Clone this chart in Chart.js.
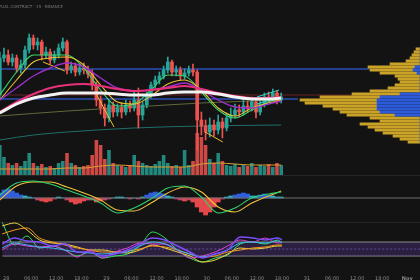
<!DOCTYPE html>
<html>
<head>
<meta charset="utf-8">
<script src="https://cdn.jsdelivr.net/npm/chart.js@4.4.0/dist/chart.umd.min.js"></script>
<style>
html, body { margin: 0; padding: 0; background: #131313; }
#wrap { position: relative; width: 420px; height: 280px; overflow: hidden; background: #131313; }
canvas { position: absolute; left: 0; }
#main { top: 0; }
#profile { top: 0; left: 280px; }
#macd { top: 175px; }
#osc { top: 222px; }
.sep { position: absolute; left: 0; width: 420px; height: 1px; background: #262626; }
#title { position: absolute; top: 4px; right: 357px; white-space: nowrap; font: 4px "DejaVu Sans"; color: #7a7a7a; }
</style>
</head>
<body>
<div id="wrap">
  <canvas id="main" width="420" height="175"></canvas>
  <canvas id="profile" width="140" height="175"></canvas>
  <div class="sep" style="top:175px"></div>
  <canvas id="macd" width="420" height="47"></canvas>
  <div class="sep" style="top:222px"></div>
  <canvas id="osc" width="420" height="58"></canvas>
  <div id="title">BTCUSD PERPETUAL CONTRACT · 15 · BINANCE</div>
</div>
<script>
// hours since 28th 00:00, one candle per hour
const hours = [-1,0,1,2,3,4,5,6,7,8,9,10,11,12,13,14,15,16,17,18,19,20,21,22,23,24,25,26,27,28,29,30,31,32,33,
  34,35,36,37,38,39,40,41,42,43,44,45,46,47,48,49,50,51,52,53,54,55,56,57,58,59,60,61,62,63,64,65,66];
const firstOpen = 34250;
const closes = [34620,34650,34580,34620,34520,34550,34700,34820,34750,34780,34650,34680,34600,34650,34720,34780,34500,
  34540,34480,34520,34500,34460,34350,34200,34120,34020,34150,34080,34120,34080,34150,34120,34200,34050,34150,34250,
  34350,34400,34440,34500,34580,34480,34500,34440,34470,34500,34480,34000,33940,33880,33950,33900,33980,33920,34020,
  34050,34100,34080,34140,34120,34180,34080,34160,34230,34220,34270,34200,34230];
const highs = [34680,34720,34700,34660,34650,34600,34740,34860,34850,34820,34800,34730,34710,34690,34760,34820,34800,
  34580,34570,34560,34570,34540,34500,34380,34240,34160,34200,34180,34160,34170,34200,34190,34280,34320,34180,34280,
  34380,34440,34480,34540,34630,34600,34540,34530,34510,34540,34560,34500,34080,34000,34020,34000,34050,34020,34070,
  34120,34160,34150,34200,34190,34230,34220,34200,34270,34280,34310,34290,34270];
const lows = [34200,34580,34550,34540,34480,34470,34520,34670,34710,34700,34600,34620,34560,34570,34620,34690,34460,
  34470,34440,34450,34460,34420,34300,34140,34060,33940,33980,34030,34040,34020,34050,34080,34090,33920,34000,34120,
  34220,34320,34360,34410,34470,34440,34440,34400,34410,34440,34440,33700,33850,33800,33830,33840,33860,33820,33890,
  33980,34020,34030,34050,34080,34090,34020,34050,34130,34180,34190,34160,34170];
const volumes = [1500,900,600,500,600,450,700,1100,600,450,550,400,450,350,600,700,1100,600,500,400,450,500,1000,1750,
  1500,800,1250,600,500,450,400,500,1000,700,600,500,450,550,700,1000,600,450,500,400,1250,500,700,2100,1900,1500,800,
  600,1100,700,500,450,550,400,500,450,600,400,500,450,550,400,600,500];

// moving averages, sampled every 4 hours
const maHours = [-1,3,7,11,15,19,23,27,31,35,39,43,47,51,55,59,63,66];
const maGreen = [34250,34480,34650,34650,34650,34520,34300,34140,34160,34300,34450,34440,34280,34100,34020,34100,34180,34220];
const maYellow = [34200,34400,34580,34620,34630,34550,34350,34180,34160,34240,34360,34400,34300,34120,34040,34120,34170,34200];
const maPurple = [34200,34320,34440,34520,34570,34530,34420,34320,34290,34300,34330,34370,34300,34200,34130,34120,34160,34190];
const maPink = [34080,34180,34260,34320,34350,34360,34340,34310,34290,34300,34320,34340,34310,34270,34240,34220,34220,34230];
const maWhite = [34070,34160,34220,34250,34270,34270,34270,34260,34250,34250,34270,34280,34280,34260,34230,34210,34210,34220];
const volMa = [300,300,300,300,350,350,450,500,450,400,400,400,550,600,550,500,500,500];
const olivHours = [-1,15,31,47,66];
const maOlive = [34040,34090,34130,34170,34200];
const tealHours = [-1,7,15,31,47,66];
const maTeal = [33800,33850,33880,33920,33940,33950];

// drawn levels and zigzag
const levelBlueHigh = 34510, levelBlueLow = 34210, levelRed = 34250;
const zigzagHours = [9.3,14.5,18,22.1,26.2,40,47.9,52.1];
const zigzagPrices = [34580,34490,null,34250,33930,null,33880,33780];
const channelHours = [60.2,65.5];
const channelTop = [34230,34300];
const channelBottom = [34160,34225];

// volume profile rows
const profilePrices = [34710,34680,34650,34620,34590,34560,34530,34500,34470,34440,34410,34380,34350,34320,34290,
  34260,34230,34200,34170,34140,34110,34080,34050,34020,33990,33960,33930,33900,33870,33840,33810,33780];
const profileValueArea = [0,0,0,0,0,0,50,70,30,0,0,0,0,0,0,200,400,430,430,430,430,400,250,0,0,0,0,0,0,0,0,0];
const profileRest = [40,60,80,100,140,300,470,430,370,250,220,200,250,320,500,480,600,770,720,540,440,400,480,500,
  400,600,520,450,370,270,200,120];

// MACD
const macdHist = [25,40,45,35,25,15,10,5,0,-10,-15,-20,-15,-5,5,0,-10,-20,-30,-25,-15,-10,-10,-20,-15,-10,-5,0,5,5,
  0,-5,0,-5,5,15,25,30,25,20,10,5,-5,-10,-15,-10,-20,-45,-70,-85,-70,-45,-20,-5,5,10,15,20,25,20,10,10,15,20,15,10,5,5];
const macdLine = [15,75,85,70,40,10,-25,-75,-50,-5,50,60,5,-75,-50,0,20,30];
const signalLine = [-10,60,80,80,55,25,-10,-60,-65,-25,25,55,30,-45,-70,-25,10,35];

// oscillators, sampled every 3 hours
const oscHours = [-1,2,5,8,11,14,17,20,23,26,29,32,35,38,41,44,47,50,53,56,59,62,65,66];
const oscGreen = [135,20,65,5,15,-5,-35,-15,-45,-35,-25,15,85,55,-5,-45,-65,-45,-30,25,35,25,45,30];
const oscYellow = [115,130,95,45,30,25,10,-5,-5,-15,-20,-5,20,5,-15,-35,-65,-55,-25,5,0,5,15,15];
const oscOrange = [75,95,105,55,35,20,5,-5,-15,-15,-10,0,15,10,-5,-25,-40,-35,-15,-5,5,10,20,20];
const oscPurple = [25,55,40,35,15,25,-15,-15,-35,-25,-5,25,55,45,15,-15,-45,-25,-5,60,55,45,55,45];
const oscPink = [-5,25,15,10,15,-5,-40,-5,-45,-15,5,30,25,25,-5,-45,-35,-15,15,45,35,55,30,35];
const oscCyan = [5,30,20,10,5,-5,-15,-20,-25,-20,-15,15,35,25,-5,-25,-40,-25,-5,30,35,30,40,30];
const oscBands = [35, 0, -35];

const tickHours = [0,6,12,18,24,30,36,42,48,54,60,66,72,78,84,90,96];
const tickLabels = ['28','06:00','12:00','18:00','29','06:00','12:00','18:00','30','06:00','12:00','18:00',
  '31','06:00','12:00','18:00','Nov'];

const X_MIN = -0.95, X_MAX = 99.05;
const UP = '#26a69a', DOWN = '#ef5350';

const opens = [firstOpen].concat(closes.slice(0, -1));
const isUp = i => closes[i] >= opens[i];

function pts(xs, ys) {
  return xs.map((x, i) => ({ x: x, y: ys[i] }));
}
function line(xs, ys, color, width, extra) {
  return Object.assign({
    type: 'line', data: pts(xs, ys), borderColor: color, borderWidth: width,
    pointRadius: 0, cubicInterpolationMode: 'monotone', fill: false
  }, extra || {});
}
function xScale() {
  return { type: 'linear', min: X_MIN, max: X_MAX, offset: false, display: false, grid: { offset: false } };
}
const base = {
  responsive: false, animation: false, devicePixelRatio: 1, events: [],
  layout: { padding: 0 },
  plugins: { legend: { display: false }, tooltip: { enabled: false }, title: { display: false } }
};

new Chart(document.getElementById('main'), {
  type: 'bar',
  data: {
    datasets: [
      line(maHours, maWhite, '#f2f2f2', 3, { order: 1 }),
      line(maHours, maPink, '#e8307a', 2.2, { order: 2 }),
      line(maHours, maPurple, '#9b2fc9', 1.4, { order: 3 }),
      line(maHours, maYellow, '#e8c332', 1.1, { order: 4 }),
      line(maHours, maGreen, '#3fd16b', 1.1, { order: 4 }),
      line(zigzagHours, zigzagPrices, '#f0c030', 1, { tension: 0, cubicInterpolationMode: 'default', order: 4 }),
      line(channelHours, channelTop, '#2fd6c6', 1, { order: 4 }),
      line(channelHours, channelBottom, '#2fd6c6', 1, { order: 4 }),
      {
        label: 'body', order: 6, grouped: false, barThickness: 3, minBarLength: 1,
        data: hours.map((h, i) => ({ x: h, y: [opens[i], closes[i]] })),
        backgroundColor: c => isUp(c.dataIndex) ? UP : DOWN
      },
      {
        label: 'wick', order: 7, grouped: false, barThickness: 1,
        data: hours.map((h, i) => ({ x: h, y: [lows[i], highs[i]] })),
        backgroundColor: c => isUp(c.dataIndex) ? UP : DOWN
      },
      line(olivHours, maOlive, '#5d6b3a', 1, { order: 8 }),
      line(tealHours, maTeal, '#1f6f6a', 1, { order: 8 }),
      line([X_MIN, 87], [levelBlueHigh, levelBlueHigh], '#2d4fb8', 1.5, { order: 8 }),
      line([X_MIN, 70], [levelBlueLow, levelBlueLow], '#2d4fb8', 1.5, { order: 8 }),
      line([X_MIN, X_MAX], [levelRed, levelRed], '#6a2424', 1, { order: 9 }),
      line(maHours, volMa, '#d9a030', 1, { yAxisID: 'yVol', order: 9 }),
      {
        label: 'volume', order: 10, grouped: false, yAxisID: 'yVol',
        barPercentage: 0.85, categoryPercentage: 1,
        data: hours.map((h, i) => ({ x: h, y: volumes[i] })),
        backgroundColor: c => isUp(c.dataIndex) ? 'rgba(38,166,154,0.8)' : 'rgba(239,83,80,0.85)'
      }
    ]
  },
  options: Object.assign({}, base, {
    scales: {
      x: xScale(),
      y: { type: 'linear', min: 33450, max: 35200, display: false },
      yVol: { type: 'linear', min: 0, max: 8750, display: false }
    }
  })
});

new Chart(document.getElementById('profile'), {
  type: 'bar',
  data: {
    datasets: [
      { data: pts(profileValueArea, profilePrices), backgroundColor: '#2d5ad8', barThickness: 2.4 },
      { data: pts(profileRest, profilePrices), backgroundColor: '#c9a227', barThickness: 2.4 }
    ]
  },
  options: Object.assign({}, base, {
    indexAxis: 'y',
    scales: {
      x: { type: 'linear', min: 0, max: 1400, reverse: true, stacked: true, display: false },
      y: { type: 'linear', min: 33450, max: 35200, stacked: true, offset: false, display: false }
    }
  })
});

new Chart(document.getElementById('macd'), {
  type: 'bar',
  data: {
    datasets: [
      line(maHours, macdLine, '#2fd26e', 1.1, { order: 1 }),
      line(maHours, signalLine, '#f0c23a', 1.1, { order: 1 }),
      line([X_MIN, X_MAX], [0, 0], '#6e6e6e', 1, { order: 2 }),
      {
        order: 3, barPercentage: 1, categoryPercentage: 1,
        data: hours.map((h, i) => ({ x: h, y: macdHist[i] })),
        backgroundColor: c => {
          const v = macdHist[c.dataIndex];
          if (v >= 0) return v > 12 ? '#2f5fdc' : '#27b8cc';
          return v < -12 ? '#e5484a' : '#c2406e';
        }
      }
    ]
  },
  options: Object.assign({}, base, {
    scales: { x: xScale(), y: { type: 'linear', min: -120, max: 115, display: false } }
  })
});

new Chart(document.getElementById('osc'), {
  type: 'line',
  data: {
    datasets: [
      line(oscHours, oscPurple, '#7c4dff', 1.4),
      line(oscHours, oscCyan, '#3fb6f0', 1),
      line(oscHours, oscPink, '#e040d8', 1),
      line(oscHours, oscOrange, '#f59a23', 1),
      line(oscHours, oscYellow, '#f2d640', 1),
      line(oscHours, oscGreen, '#35e06a', 1),
      line([X_MIN, X_MAX], [oscBands[0], oscBands[0]], '#8c8c8c', 1, { fill: '+1', backgroundColor: 'rgba(88,56,150,0.35)' }),
      line([X_MIN, X_MAX], [oscBands[2], oscBands[2]], '#8c8c8c', 1),
      line([X_MIN, X_MAX], [oscBands[1], oscBands[1]], '#6a55a0', 1, { borderDash: [2, 2] })
    ]
  },
  options: Object.assign({}, base, {
    scales: {
      x: {
        type: 'linear', min: X_MIN, max: X_MAX, offset: false,
        grid: { display: false }, border: { display: false },
        afterBuildTicks: s => { s.ticks = tickHours.map(v => ({ value: v })); },
        afterFit: s => { s.height = 15; },
        ticks: {
          autoSkip: false, maxRotation: 0, padding: 3, color: '#878787',
          font: c => ({ family: 'DejaVu Sans', size: 5, weight: c.index === tickLabels.length - 1 ? 'bold' : 'normal' }),
          callback: (v, i) => tickLabels[i]
        }
      },
      y: { type: 'linear', min: -80, max: 135, display: false }
    }
  })
});
</script>
</body>
</html>
